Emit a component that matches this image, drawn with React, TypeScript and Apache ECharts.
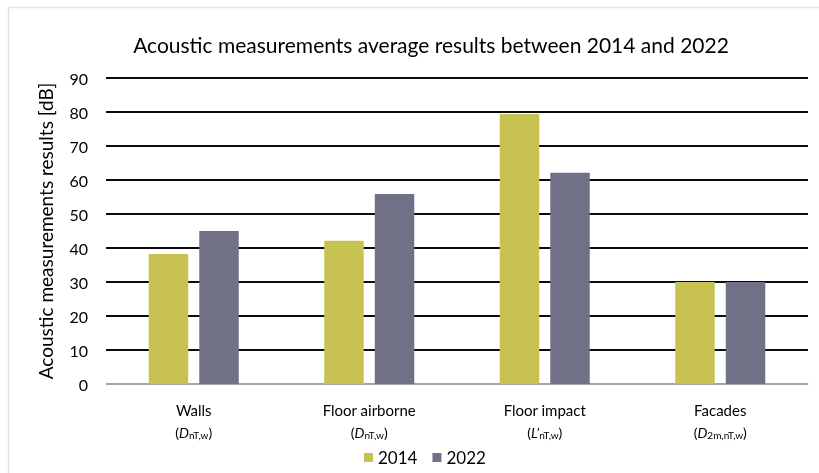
import React, { useEffect, useRef } from "react";
import * as echarts from "echarts";

const categories = ["Walls", "Floor airborne", "Floor impact", "Facades"];
const symbols = [
  { pre: "D", sub: "nT,w" },
  { pre: "D", sub: "nT,w" },
  { pre: "L’", sub: "nT,w" },
  { pre: "D", sub: "2m,nT,w" },
];
const series2014 = [38.2, 42.1, 79.4, 30.0];
const series2022 = [45.0, 55.9, 62.1, 30.0];
const seriesNames = ["2014", "2022"];
const yTicks = { min: 0, max: 90, interval: 10 };

const FONT = "Lato";

export default function App() {
  const ref = useRef<HTMLDivElement>(null);
  useEffect(() => {
    if (!ref.current) return;
    const chart = echarts.init(ref.current, null, { renderer: "svg" });
    chart.setOption({
      animation: false,
      textStyle: { fontFamily: FONT, color: "#000" },
      title: {
        text: "Acoustic measurements average results between 2014 and 2022",
        left: 426,
        textAlign: "center",
        top: 29,
        textStyle: { fontFamily: FONT, fontSize: 21, fontWeight: "normal", color: "#000" },
      },
      graphic: [
        {
          type: "rect",
          shape: { x: 8.5, y: 7.5, width: 830, height: 500 },
          style: { fill: "none", stroke: "#e3e3e3", lineWidth: 1.5 },
          silent: true,
        },
      ],
      legend: {
        left: 359,
        top: 444,
        icon: "rect",
        itemWidth: 9,
        itemHeight: 9,
        itemGap: 15,
        textStyle: { fontFamily: FONT, fontSize: 17, color: "#000" },
        data: seriesNames,
      },
      grid: { left: 106, right: 11, top: 78, bottom: 89, containLabel: false },
      xAxis: {
        type: "category",
        data: categories,
        axisTick: { show: false },
        axisLine: { lineStyle: { color: "#d9d9d9", width: 1.5 } },
        axisLabel: {
          margin: 15,
          interval: 0,
          formatter: (v: string, i: number) => {
            const s = symbols[i];
            return `{a|${v}}\n{b|(}{i|${s.pre}}{s|${s.sub}}{b|)}`;
          },
          rich: {
            a: { fontFamily: FONT, fontSize: 15, color: "#000", lineHeight: 22 },
            b: { fontFamily: FONT, fontSize: 14, color: "#000", lineHeight: 22 },
            i: { fontFamily: FONT, fontSize: 14, color: "#000", fontStyle: "italic", lineHeight: 22 },
            s: { fontFamily: FONT, fontSize: 10, color: "#000", lineHeight: 22, padding: [6, 0, 0, 0] },
          },
        },
      },
      yAxis: {
        type: "value",
        min: yTicks.min,
        max: yTicks.max,
        interval: yTicks.interval,
        name: "Acoustic measurements results [dB]",
        nameLocation: "middle",
        nameGap: 51,
        nameTextStyle: { fontFamily: FONT, fontSize: 19, color: "#000" },
        axisLine: { show: false },
        axisTick: { show: false },
        axisLabel: { margin: 18, fontFamily: FONT, fontSize: 16, color: "#000" },
        splitLine: { lineStyle: { color: "#0a0a0a", width: 1.8 } },
      },
      series: [
        {
          name: seriesNames[0],
          type: "bar",
          data: series2014,
          itemStyle: { color: "#c8c252" },
          barGap: "28%",
          barCategoryGap: "48.7%",
        },
        {
          name: seriesNames[1],
          type: "bar",
          data: series2022,
          itemStyle: { color: "#707086" },
          barGap: "28%",
          barCategoryGap: "48.7%",
        },
      ],
    });
    return () => chart.dispose();
  }, []);
  return (
    <div
      ref={ref}
      style={{ position: "fixed", left: 0, top: 0, width: 819, height: 473 }}
    />
  );
}
